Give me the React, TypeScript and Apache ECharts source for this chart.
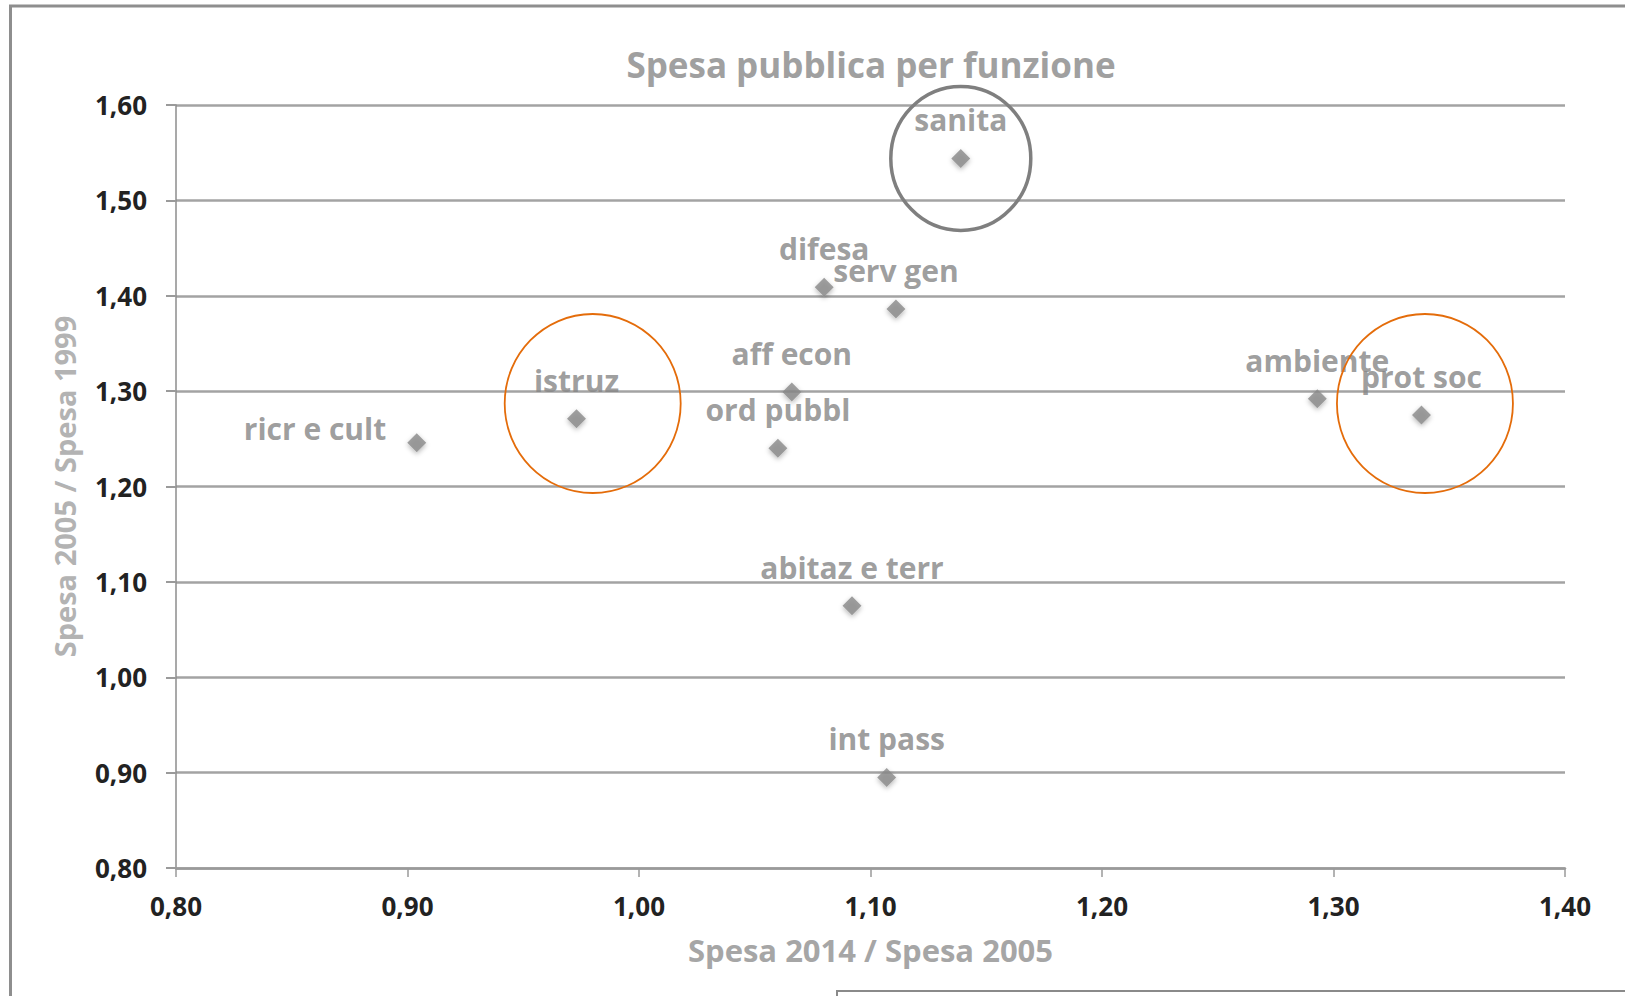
import React, { useEffect, useRef } from "react";
import * as echarts from "echarts";

// Spending by function: growth 2005→2014 (x) against growth 1999→2005 (y)
const functionNames = [
  "sanita",
  "difesa",
  "serv gen",
  "aff econ",
  "ord pubbl",
  "istruz",
  "ricr e cult",
  "ambiente",
  "prot soc",
  "abitaz e terr",
  "int pass",
];
const ratio2014on2005 = [1.139, 1.080, 1.111, 1.066, 1.060, 0.973, 0.904, 1.293, 1.338, 1.092, 1.107];
const ratio2005on1999 = [1.544, 1.409, 1.386, 1.299, 1.240, 1.271, 1.246, 1.292, 1.275, 1.075, 0.895];

// Highlight rings drawn around selected functions (centres in data units)
const ringNames = ["sanita", "istruz", "prot soc"];
const ringCenterX = [1.139, 0.980, 1.3395];
const ringCenterY = [1.544, 1.287, 1.287];

const xTickLabels = ["0,80", "0,90", "1,00", "1,10", "1,20", "1,30", "1,40"];
const yTickLabels = ["0,80", "0,90", "1,00", "1,10", "1,20", "1,30", "1,40", "1,50", "1,60"];

const FONT = "'Open Sans', 'Noto Sans', sans-serif";

const tickText = (labels: string[], min: number) => (v: number) => {
  const i = Math.round((v - min) / 0.1);
  return labels[i] ?? v.toFixed(2).replace(".", ",");
};

export default function App() {
  const ref = useRef<HTMLDivElement>(null);

  useEffect(() => {
    if (!ref.current) return;
    const chart = echarts.init(ref.current, undefined, { renderer: "svg" });

    const points = functionNames.map((name, i) => {
      const item: any = { name, value: [ratio2014on2005[i], ratio2005on1999[i]] };
      if (name === "ricr e cult") {
        item.label = { position: "left", distance: 21, offset: [0, -14] };
      }
      return item;
    });

    chart.setOption({
      animation: false,
      backgroundColor: "#ffffff",
      title: {
        text: "Spesa pubblica per funzione",
        left: 866,
        top: 42,
        textAlign: "center",
        textStyle: { color: "#a0a0a0", fontSize: 35, fontWeight: "bold", fontFamily: FONT },
      },
      grid: { left: 176, right: 60, top: 105, bottom: 128, containLabel: false, outerBoundsMode: "none" },
      xAxis: {
        type: "value",
        min: 0.8,
        max: 1.4,
        interval: 0.1,
        name: "Spesa 2014 / Spesa 2005",
        nameLocation: "middle",
        nameGap: 66,
        nameTextStyle: { color: "#a6a6a6", fontSize: 31, fontWeight: "bold", fontFamily: FONT },
        axisLine: { show: true, onZero: false, lineStyle: { color: "#9a9a9a", width: 2.5 } },
        axisTick: { show: true, length: 9, lineStyle: { color: "#9a9a9a", width: 1.5 } },
        axisLabel: {
          formatter: tickText(xTickLabels, 0.8),
          color: "#222222",
          fontSize: 26,
          fontWeight: "bold",
          fontFamily: FONT,
          margin: 25,
        },
        splitLine: { show: false },
      },
      yAxis: {
        type: "value",
        min: 0.8,
        max: 1.6,
        interval: 0.1,
        name: "Spesa 2005 / Spesa 1999",
        nameLocation: "middle",
        nameGap: 97,
        nameTextStyle: { color: "#b3b3b3", fontSize: 29, fontWeight: "bold", fontFamily: FONT },
        axisLine: { show: true, onZero: false, lineStyle: { color: "#8c8c8c", width: 1.5 } },
        axisTick: { show: true, length: 10, lineStyle: { color: "#9a9a9a", width: 2 } },
        axisLabel: {
          formatter: tickText(yTickLabels, 0.8),
          color: "#222222",
          fontSize: 26,
          fontWeight: "bold",
          fontFamily: FONT,
          margin: 29,
        },
        splitLine: { show: true, lineStyle: { color: "#a3a3a3", width: 2.5 } },
      },
      graphic: [
        { type: "line", silent: true, shape: { x1: 9, y1: 6, x2: 1625, y2: 6 }, style: { stroke: "#8e8e8e", lineWidth: 3 } },
        { type: "line", silent: true, shape: { x1: 10.5, y1: 5, x2: 10.5, y2: 996 }, style: { stroke: "#8e8e8e", lineWidth: 3 } },
        { type: "line", silent: true, shape: { x1: 837, y1: 991, x2: 1625, y2: 991 }, style: { stroke: "#8a8a8a", lineWidth: 2 } },
        { type: "line", silent: true, shape: { x1: 837, y1: 990, x2: 837, y2: 996 }, style: { stroke: "#8a8a8a", lineWidth: 2 } },
      ],
      series: [
        {
          type: "scatter",
          data: points,
          symbol: "diamond",
          symbolSize: 19,
          itemStyle: {
            color: "#8a8a8a",
            shadowBlur: 5,
            shadowColor: "rgba(0,0,0,0.35)",
            shadowOffsetY: 2,
          },
          label: {
            show: true,
            position: "top",
            distance: 12,
            formatter: "{b}",
            color: "#858585",
            fontSize: 30,
            lineHeight: 34,
            fontWeight: "bold",
            fontFamily: FONT,
          },
          z: 3,
        },
        {
          type: "custom",
          coordinateSystem: "cartesian2d",
          clip: false,
          silent: true,
          z: 4,
          data: ringNames.map((name, i) => ({ name, value: [ringCenterX[i], ringCenterY[i]] })),
          renderItem: (params: any, api: any) => {
            const c = api.coord([api.value(0), api.value(1)]);
            const main = params.dataIndex === 0;
            return {
              type: "ellipse",
              shape: { cx: c[0], cy: c[1], rx: main ? 70 : 88, ry: main ? 72 : 89.5 },
              style: {
                fill: "none",
                stroke: main ? "#7f7f7f" : "#e46c0a",
                lineWidth: main ? 3.5 : 1.8,
              },
            };
          },
        },
      ],
    });

    return () => chart.dispose();
  }, []);

  return (
    <div
      ref={ref}
      style={{ position: "fixed", left: 0, top: 0, width: 1625, height: 996, background: "#ffffff" }}
    />
  );
}
